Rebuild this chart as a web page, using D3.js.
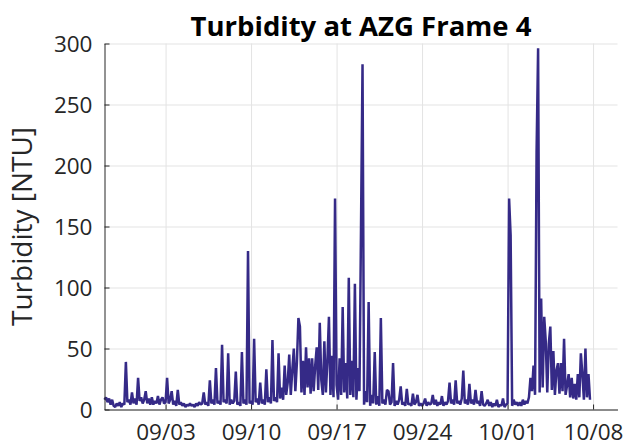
<!DOCTYPE html>
<html>
<head>
<meta charset="utf-8">
<script src="https://cdn.jsdelivr.net/npm/d3@7"></script>
<style>
  body { margin: 0; background: #fff; }
  svg { display: block; font-family: 'Open Sans', sans-serif; }
</style>
</head>
<body>
<svg id="chart" width="628" height="445"></svg>
<script>
// turbidity [NTU], one sample every 3 hours, one row per day
const year = 2015;
const startDay = '08/29';
const stepHours = 3;
const turbidity = [
  8, 10, 6, 9, 4, 8, 3, 2, // 08/29
  5, 3, 6, 2, 5, 4, 39, 6,
  8, 4, 14, 5, 9, 4, 26, 7,
  10, 5, 8, 15, 5, 9, 4, 10, // 09/01
  4, 7, 5, 11, 4, 8, 10, 5,
  6, 26, 5, 8, 15, 4, 7, 3,
  16, 4, 6, 3, 5, 2, 4, 3,
  5, 3, 4, 2, 5, 3, 6, 4,
  5, 14, 4, 6, 3, 24, 5, 8,
  4, 34, 5, 7, 4, 53, 6, 8,
  5, 46, 4, 8, 5, 7, 31, 4, // 09/08
  6, 3, 47, 5, 8, 4, 130, 5,
  7, 4, 58, 6, 9, 4, 22, 5,
  8, 4, 33, 6, 10, 5, 57, 7,
  10, 6, 46, 9, 18, 8, 36, 12,
  22, 45, 12, 32, 50, 15, 38, 75,
  68, 14, 40, 12, 51, 18, 42, 13,
  42, 15, 36, 51, 16, 71, 24, 12, // 09/15
  56, 14, 40, 76, 12, 44, 10, 173,
  20, 8, 42, 12, 84, 14, 38, 9,
  108, 12, 40, 10, 103, 8, 34, 15,
  148, 283, 4, 15, 6, 88, 3, 12,
  5, 47, 4, 11, 3, 75, 5, 8,
  4, 16, 15, 4, 6, 38, 3, 7,
  4, 8, 19, 4, 6, 3, 17, 4, // 09/22
  5, 3, 13, 4, 6, 12, 3, 5,
  3, 5, 9, 3, 6, 4, 5, 12,
  4, 8, 3, 6, 4, 11, 3, 6,
  4, 7, 22, 5, 8, 4, 24, 5,
  7, 4, 9, 32, 5, 8, 4, 21,
  5, 8, 4, 16, 5, 7, 3, 15,
  4, 3, 5, 8, 3, 6, 2, 5, // 09/29
  3, 8, 2, 4, 3, 9, 2, 4,
  5, 173, 143, 3, 8, 4, 6, 3,
  6, 3, 8, 4, 7, 5, 10, 26,
  15, 36, 12, 211, 296, 14, 91, 18,
  76, 56, 14, 54, 68, 16, 48, 12,
  32, 38, 13, 38, 15, 58, 12, 20,
  29, 10, 26, 9, 21, 8, 29, 10, // 10/06
  46, 29, 8, 50, 10, 29, 8,
];

const xTickLabels = ['09/03', '09/10', '09/17', '09/24', '10/01', '10/08'];
const xLimits = ['08/29', '10/10'];
const yTicks = [0, 50, 100, 150, 200, 250, 300];
const yLimits = [0, 300];

const lineColor = '#352a87';
const axisColor = '#262626';
const gridColor = '#e3e3e3';

const margin = { top: 43.5, right: 10.5, bottom: 35.5, left: 104.5 };
const width = 628 - margin.left - margin.right;
const height = 445 - margin.top - margin.bottom;

const parseDay = d3.timeParse('%Y/%m/%d');
const day = (s) => parseDay(`${year}/${s}`);
const fmt = d3.timeFormat('%m/%d');

const data = turbidity.map((v, i) => ({
  t: d3.timeHour.offset(day(startDay), i * stepHours),
  v,
}));

const x = d3.scaleTime().domain(xLimits.map(day)).range([0, width]);
const y = d3.scaleLinear().domain(yLimits).range([height, 0]);

const svg = d3.select('#chart');
const g = svg.append('g').attr('transform', `translate(${margin.left},${margin.top})`);

// grid
g.append('g')
  .call(d3.axisLeft(y).tickValues(yTicks).tickSize(-width).tickFormat(''))
  .call((s) => s.select('.domain').remove())
  .selectAll('line')
  .attr('stroke', gridColor);

g.append('g')
  .attr('transform', `translate(0,${height})`)
  .call(d3.axisBottom(x).tickValues(xTickLabels.map(day)).tickSize(-height).tickFormat(''))
  .call((s) => s.select('.domain').remove())
  .selectAll('line')
  .attr('stroke', gridColor);

// series
g.append('path')
  .datum(data)
  .attr('fill', 'none')
  .attr('stroke', lineColor)
  .attr('stroke-width', 2.5)
  .attr('stroke-linejoin', 'bevel')
  .attr('d', d3.line().x((d) => x(d.t)).y((d) => y(d.v)));

// axes, ticks point inward
const yAxis = g.append('g')
  .call(d3.axisLeft(y).tickValues(yTicks).tickSize(-5).tickSizeOuter(0).tickPadding(12));

const xAxis = g.append('g')
  .attr('transform', `translate(0,${height})`)
  .call(d3.axisBottom(x).tickValues(xTickLabels.map(day)).tickFormat(fmt).tickSize(-5).tickSizeOuter(0));

[yAxis, xAxis].forEach((a) => {
  a.attr('font-family', null).attr('font-size', null);
  a.selectAll('.domain, line').attr('stroke', axisColor);
  a.selectAll('text').attr('fill', axisColor).attr('font-size', 22.5);
});
yAxis.selectAll('text').attr('dy', '0.36em');
xAxis.selectAll('text').attr('y', 30).attr('dy', 0);

// labels
svg.append('text')
  .attr('x', margin.left + width / 2)
  .attr('y', 36)
  .attr('text-anchor', 'middle')
  .attr('font-size', 27.5)
  .attr('font-weight', 'bold')
  .attr('fill', '#000')
  .text('Turbidity at AZG Frame 4');

svg.append('text')
  .attr('transform', `translate(32,${margin.top + height / 2}) rotate(-90)`)
  .attr('text-anchor', 'middle')
  .attr('font-size', 28)
  .attr('fill', axisColor)
  .text('Turbidity [NTU]');
</script>
</body>
</html>
